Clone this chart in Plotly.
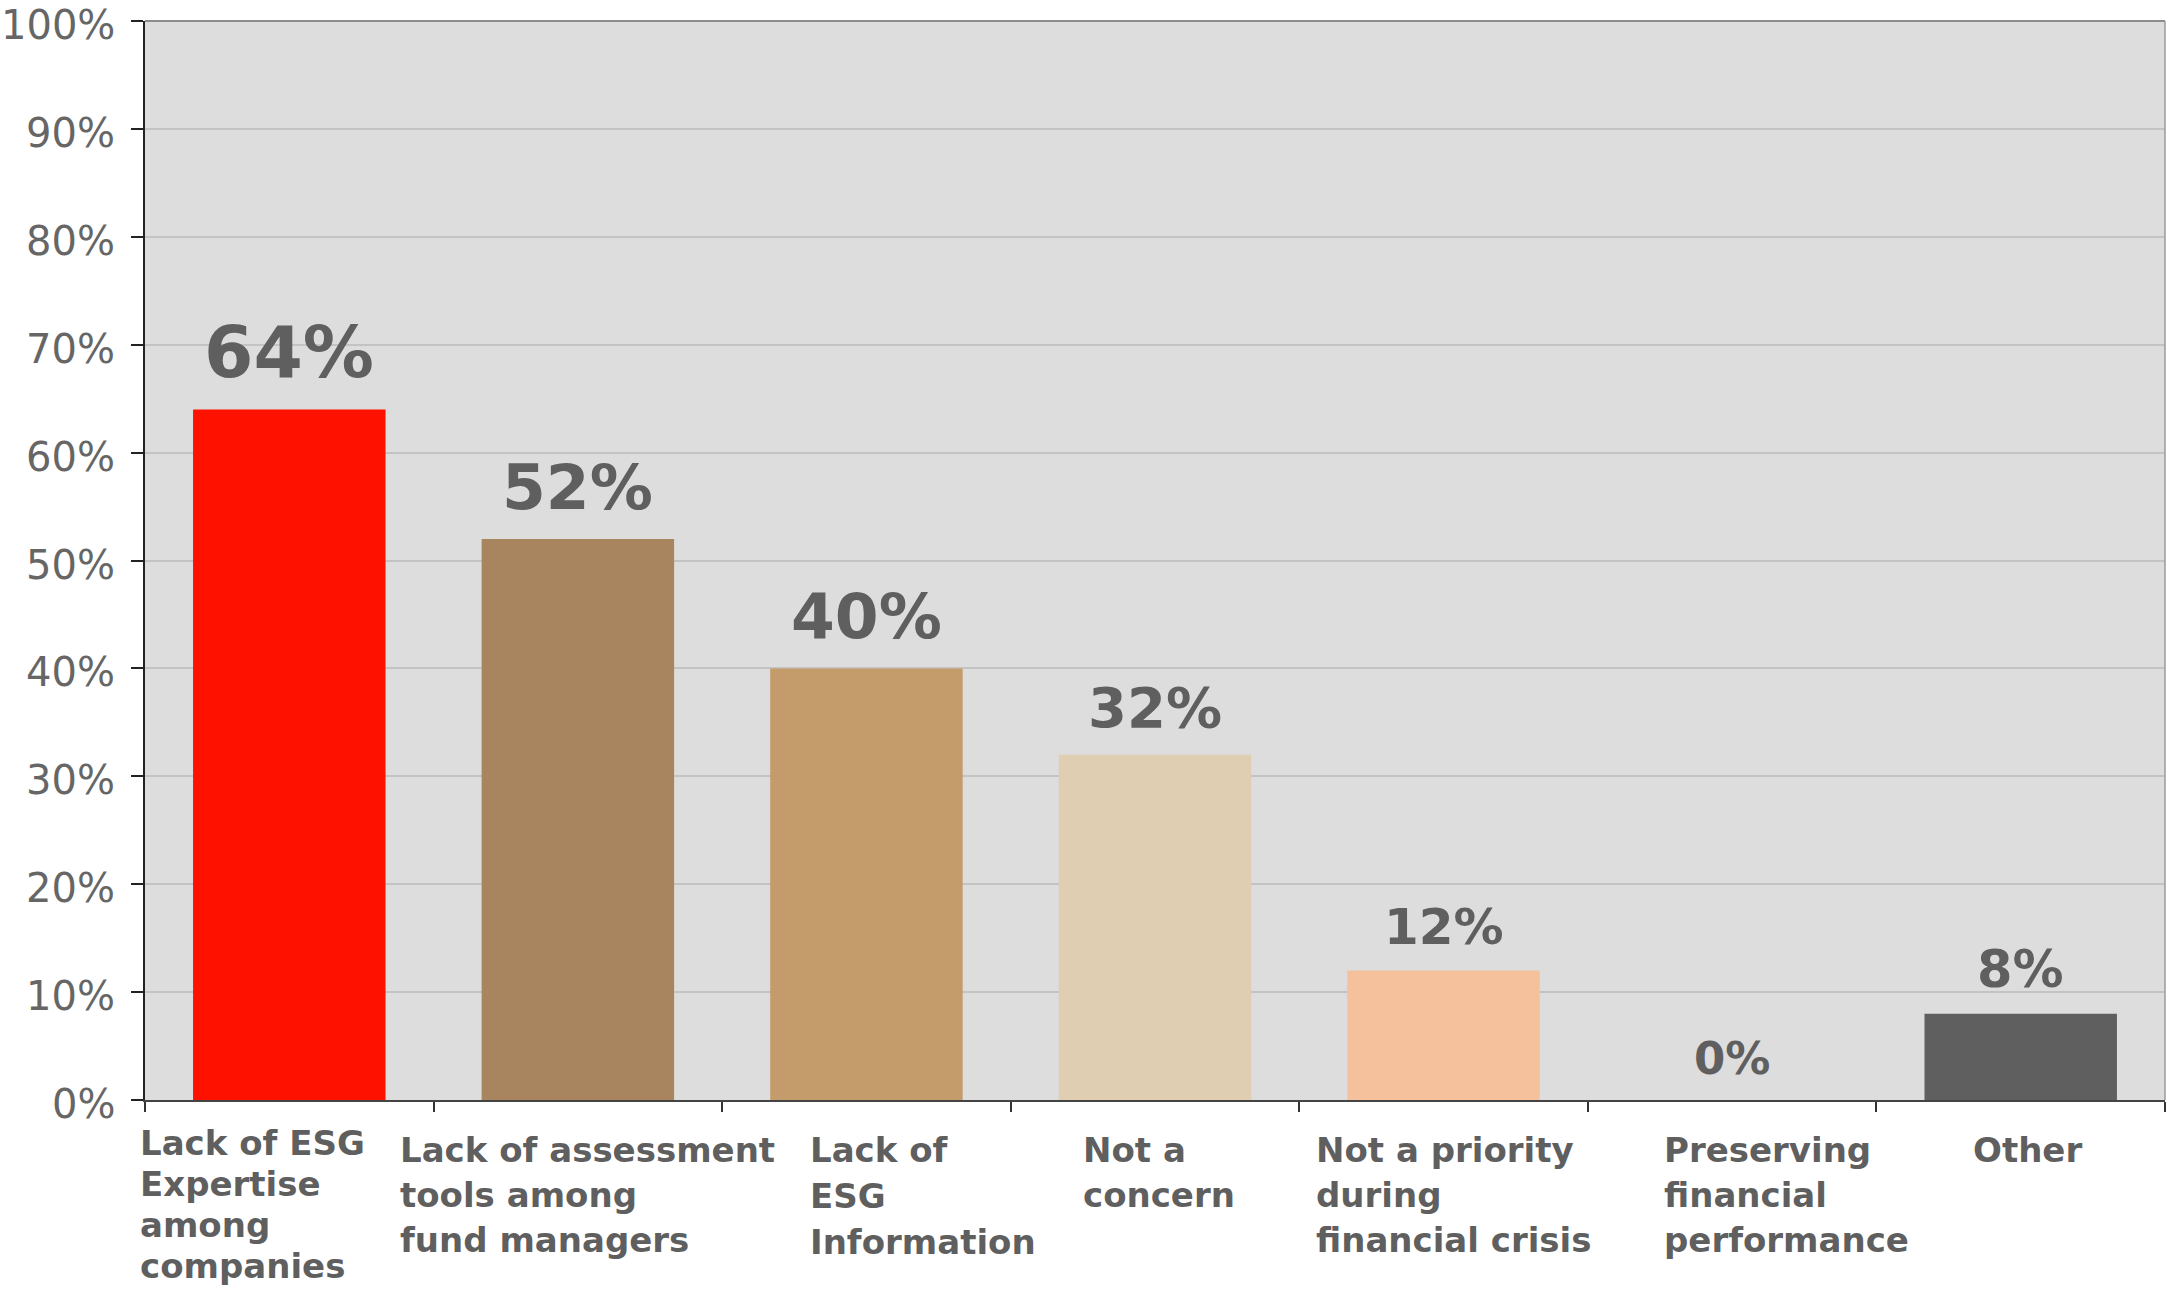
import plotly.graph_objects as go

# Survey results: obstacles to ESG integration
categories = [
    "Lack of ESG Expertise among companies",
    "Lack of assessment tools among fund managers",
    "Lack of ESG Information",
    "Not a concern",
    "Not a priority during financial crisis",
    "Preserving financial performance",
    "Other",
]
label_lines = [
    ["Lack of ESG", "Expertise", "among", "companies"],
    ["Lack of assessment", "tools among", "fund managers"],
    ["Lack of", "ESG", "Information"],
    ["Not a", "concern"],
    ["Not a priority", "during", "financial crisis"],
    ["Preserving", "financial", "performance"],
    ["Other"],
]
shares = [64, 52, 40, 32, 12, 0, 8]
y_ticks = [0, 10, 20, 30, 40, 50, 60, 70, 80, 90, 100]
y_tick_text = [f"{v}%" for v in y_ticks]

# Styling
bar_colors = ["#ff1100", "#a8855e", "#c49b6a", "#e0ceb2", "#f4c19c", "#c8c8c8", "#5f5f5f"]
value_font_sizes = [71, 63, 63, 56, 50, 45, 51]
label_xshift = [-151, -180, -58, -74, -130, -70, -50]
label_first_baseline = [54, 61, 61, 61, 61, 61, 61]   # px below the x axis
label_pitch = [41, 45, 46, 45, 45, 45, 45]
TEXT_GREY = "#5f5f5f"
FONT = "DejaVu Sans"
LABEL_SIZE = 34

fig = go.Figure(
    go.Bar(
        x=categories,
        y=shares,
        marker=dict(color=bar_colors, line=dict(width=0)),
        width=0.667,
        hoverinfo="skip",
    )
)

annotations = []
# y tick labels, sitting slightly below their tick marks
for v, t in zip(y_ticks, y_tick_text):
    annotations.append(dict(
        x=0, y=v, xref="paper", yref="y",
        text=t, showarrow=False,
        xanchor="right", yanchor="middle", xshift=-28, yshift=-4,
        font=dict(family=FONT, size=40, color="#666666"),
    ))

# value labels above each bar
for cat, v, fs in zip(categories, shares, value_font_sizes):
    annotations.append(dict(
        x=cat, y=v, xref="x", yref="y",
        text=f"{v}%", showarrow=False,
        xanchor="center", yanchor="bottom", yshift=13,
        font=dict(family=FONT, size=fs, color=TEXT_GREY, weight="bold"),
    ))

# multi-line category labels, left aligned under each category
for cat, lines, dx, base, pitch in zip(categories, label_lines, label_xshift,
                                       label_first_baseline, label_pitch):
    for j, line in enumerate(lines):
        baseline = base + pitch * j
        annotations.append(dict(
            x=cat, y=0, xref="x", yref="paper",
            text=line, showarrow=False,
            xanchor="left", yanchor="top",
            xshift=dx, yshift=-(baseline - 33),
            font=dict(family=FONT, size=LABEL_SIZE, color=TEXT_GREY, weight="bold"),
        ))

fig.update_layout(
    width=2168, height=1290, autosize=False,
    margin=dict(l=145, r=3, t=21, b=190, pad=0, autoexpand=False),
    paper_bgcolor="white",
    plot_bgcolor="#dddddd",
    showlegend=False,
    annotations=annotations,
    shapes=[
        dict(type="line", xref="paper", yref="paper", x0=0, x1=1, y0=1, y1=1,
             line=dict(color="#8c8c8c", width=2), layer="above"),
        dict(type="line", xref="paper", yref="paper", x0=1, x1=1, y0=0, y1=1,
             line=dict(color="#9a9a9a", width=1.5), layer="above"),
    ],
    xaxis=dict(
        type="category",
        categoryorder="array", categoryarray=categories,
        range=[-0.5, len(categories) - 0.5],
        showticklabels=False,
        ticks="outside", tickson="boundaries", ticklen=10,
        tickcolor="#333333", tickwidth=1.5,
        showline=True, linecolor="#444444", linewidth=2,
        showgrid=False, zeroline=False, automargin=False,
    ),
    yaxis=dict(
        range=[0, 100],
        tickmode="array",
        tickvals=y_ticks,
        showticklabels=False,
        ticks="outside", ticklen=12, tickcolor="#222222", tickwidth=1.5,
        showline=True, linecolor="#222222", linewidth=1.5,
        showgrid=True, gridcolor="#c3c3c3", gridwidth=1.5,
        zeroline=False, automargin=False,
    ),
)

fig.write_html("out.html")
